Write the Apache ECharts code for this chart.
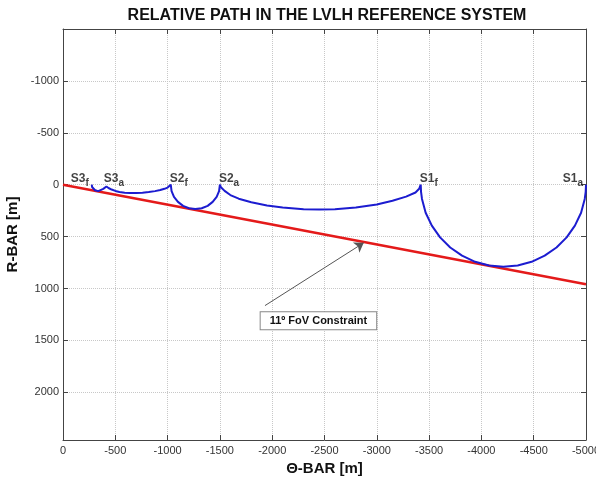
<!DOCTYPE html>
<html>
<head>
<meta charset="utf-8">
<script src="https://cdn.jsdelivr.net/npm/echarts@6/dist/echarts.min.js"></script>
<style>
  html, body { margin: 0; padding: 0; background: #fff; }
  #chart { width: 596px; height: 479px; }
</style>
</head>
<body>
<div id="chart"></div>
<script>
// blue trajectory, in flight order S1a -> S1f -> S2a -> S2f -> S3a -> S3f
var pathX = [
  -5000, -4997, -4988, -4953, -4894, -4815, -4718, -4605, -4480, -4347, -4210,
  -4073, -3940, -3815, -3702, -3605, -3526, -3467, -3432, -3423, -3420,
  -3405, -3370, -3280, -3150, -3000, -2800, -2600, -2450, -2300, -2100, -1950,
  -1800, -1680, -1600, -1545, -1510, -1500,
  -1492, -1469, -1431, -1383, -1326, -1265, -1204, -1148, -1099, -1061, -1038, -1030,
  -1018, -1000, -970, -930, -880, -820, -760, -700, -640, -590, -540, -500,
  -465, -435, -415, -400,
  -396, -385, -368, -337, -306, -289, -278, -275
];
var pathY = [
  0, 69, 137, 270, 395, 508, 605, 684, 743, 778, 790,
  778, 743, 684, 605, 508, 395, 270, 137, 69, 0,
  40, 75, 115, 155, 190, 220, 236, 240, 236, 220, 200,
  170, 135, 100, 60, 25, 0,
  61, 118, 166, 204, 227, 235, 227, 204, 166, 118, 61, 0,
  15, 28, 40, 52, 62, 71, 77, 80, 80, 77, 70, 60,
  47, 32, 17, 0,
  22, 40, 54, 62, 54, 40, 22, 0
];

// 11 deg field-of-view constraint line
var fovX = [0, -5000];
var fovY = [0, 960];

// waypoint labels
var wpName = ['S1', 'S1', 'S2', 'S2', 'S3', 'S3'];
var wpSub = ['a', 'f', 'a', 'f', 'a', 'f'];
var wpX = [-5000, -3420, -1500, -1030, -400, -275];
var wpY = [0, 0, 0, 0, 0, 0];

var annText = '11\u00ba FoV Constraint';
var annTip = [-2875, 560];
var annTail = [-1931, 1165];
var annBox = [-2442, 1310];

var xTicks = { min: -5000, max: 0, interval: 500 };
var yTicks = { min: -1500, max: 2460, interval: 500 };

var FONT = '"Liberation Sans", Arial, Helvetica, sans-serif';
var labelLeft = { S1a: true, S3f: true };

var pathData = pathX.map(function (x, i) { return [x, pathY[i]]; });
var fovData = fovX.map(function (x, i) { return [x, fovY[i]]; });
var wpData = wpX.map(function (x, i) {
  var key = wpName[i] + wpSub[i];
  return {
    value: [x, wpY[i]],
    label: {
      position: labelLeft[key] ? 'left' : 'right',
      distance: labelLeft[key] ? 3 : -1,
      formatter: '{m|' + wpName[i] + '}{s|' + wpSub[i] + '}'
    }
  };
});

var chart = echarts.init(document.getElementById('chart'));

function plain(v) { return String(v); }

function xAxisBase(pos) {
  return {
    type: 'value', position: pos, inverse: true,
    min: xTicks.min, max: xTicks.max, interval: xTicks.interval,
    axisLine: { show: true, onZero: false, lineStyle: { color: '#444', width: 1 } },
    axisTick: { show: true, inside: true, length: 5, lineStyle: { color: '#444' } },
    splitLine: { show: false },
    axisLabel: { show: false }
  };
}
function yAxisBase(pos) {
  return {
    type: 'value', position: pos, inverse: true,
    min: yTicks.min, max: yTicks.max, interval: yTicks.interval,
    axisLine: { show: true, onZero: false, lineStyle: { color: '#444', width: 1 } },
    axisTick: { show: true, inside: true, length: 5, lineStyle: { color: '#444' } },
    splitLine: { show: false },
    axisLabel: { show: false }
  };
}

var xBottom = xAxisBase('bottom');
xBottom.name = '\u0398-BAR [m]';
xBottom.nameLocation = 'middle';
xBottom.nameGap = 21;
xBottom.nameTextStyle = { fontFamily: FONT, fontSize: 15, fontWeight: 'bold', color: '#111' };
xBottom.axisLabel = { show: true, margin: 5, formatter: plain, fontFamily: FONT, fontSize: 11, color: '#333' };
xBottom.splitLine = { show: true, lineStyle: { color: '#c8c8c8', type: 'dotted', width: 1 } };

var yLeft = yAxisBase('left');
yLeft.name = 'R-BAR [m]';
yLeft.nameLocation = 'middle';
yLeft.nameGap = 40;
yLeft.nameTextStyle = { fontFamily: FONT, fontSize: 15, fontWeight: 'bold', color: '#111' };
yLeft.axisLabel = { show: true, margin: 4, showMinLabel: false, showMaxLabel: false, formatter: plain,
  fontFamily: FONT, fontSize: 11, color: '#333' };
yLeft.splitLine = { show: true, lineStyle: { color: '#c8c8c8', type: 'dotted', width: 1 } };

var option = {
  animation: false,
  backgroundColor: '#fff',
  title: {
    text: 'RELATIVE PATH IN THE LVLH REFERENCE SYSTEM',
    left: 322, top: 3, textAlign: 'center',
    textStyle: { fontFamily: FONT, fontSize: 16, fontWeight: 'bold', color: '#111' }
  },
  grid: { left: 63, right: 10, top: 29, bottom: 39, containLabel: false, outerBoundsMode: 'none' },
  xAxis: [xBottom, xAxisBase('top')],
  yAxis: [yLeft, yAxisBase('right')],
  series: [
    {
      name: 'FoV', type: 'line', data: fovData, symbol: 'none',
      lineStyle: { color: '#e41a1a', width: 2.5 },
      markLine: {
        silent: true, symbol: ['none', 'arrow'], symbolSize: 9, z: 5,
        label: { show: false },
        itemStyle: { color: '#222' },
        lineStyle: { color: '#555', width: 1, type: 'solid' },
        data: [[{ coord: annTail }, { coord: annTip }]]
      },
      markPoint: {
        silent: true, symbol: 'rect', symbolSize: 0,
        data: [{ coord: annBox }],
        label: {
          show: true, position: 'inside', formatter: annText,
          fontFamily: FONT, fontSize: 11, fontWeight: 'bold', color: '#111',
          backgroundColor: '#fff', borderColor: '#888', borderWidth: 1,
          padding: [3, 9, 3, 9]
        }
      }
    },
    {
      name: 'Path', type: 'line', data: pathData, symbol: 'none',
      lineStyle: { color: '#1c1cd0', width: 2 }
    },
    {
      name: 'Waypoints', type: 'scatter', data: wpData, symbolSize: 0,
      label: {
        show: true, offset: [0, -6],
        rich: {
          m: { fontFamily: FONT, fontSize: 12, fontWeight: 'bold', color: '#111' },
          s: { fontFamily: FONT, fontSize: 10, fontWeight: 'bold', color: '#111', padding: [10, 0, 0, 0] }
        }
      }
    }
  ]
};

chart.setOption(option);
</script>
</body>
</html>
